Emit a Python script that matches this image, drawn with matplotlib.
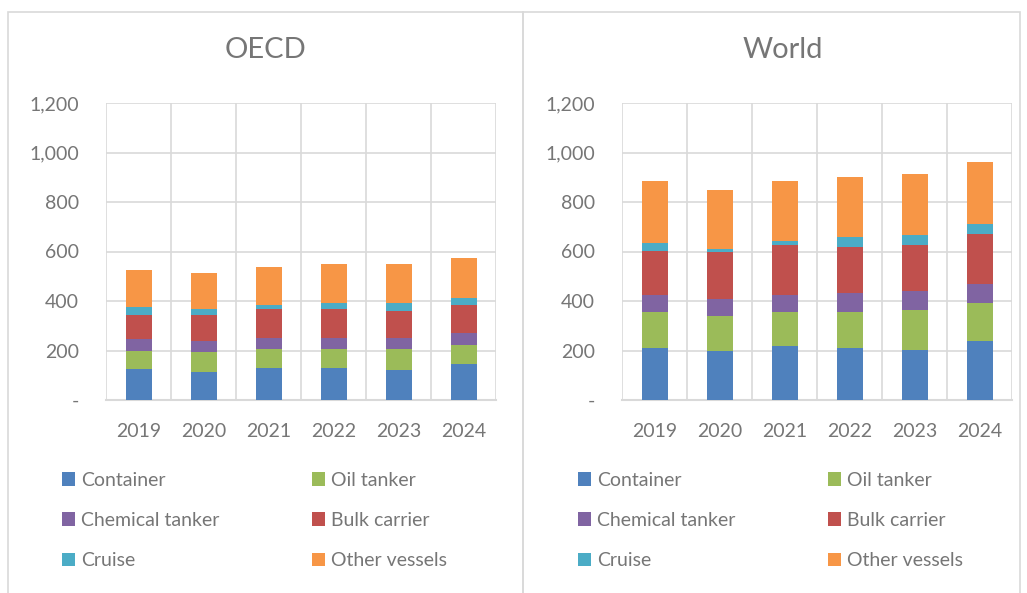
import matplotlib.pyplot as plt
from matplotlib.patches import Rectangle
import numpy as np

plt.rcParams['font.family'] = ['Lato', 'DejaVu Sans']

years = ['2019', '2020', '2021', '2022', '2023', '2024']
series = ['Container', 'Oil tanker', 'Chemical tanker', 'Bulk carrier', 'Cruise', 'Other vessels']
colors = ['#4F81BD', '#9BBB59', '#8064A2', '#C0504D', '#4BACC6', '#F79646']

# OECD values per vessel type
oecd_container = [124, 115, 131, 131, 123, 147]
oecd_oil = [76, 77, 76, 76, 84, 76]
oecd_chemical = [46, 46, 45, 45, 45, 47]
oecd_bulk = [98, 106, 114, 114, 106, 112]
oecd_cruise = [31, 22, 16, 24, 32, 31]
oecd_other = [152, 146, 154, 159, 159, 159]

# World values per vessel type
world_container = [211, 196, 219, 211, 204, 240]
world_oil = [143, 144, 135, 143, 158, 153]
world_chemical = [69, 68, 69, 77, 77, 74]
world_bulk = [181, 189, 204, 188, 188, 205]
world_cruise = [32, 15, 16, 40, 39, 39]
world_other = [250, 235, 243, 241, 249, 250]

oecd = [oecd_container, oecd_oil, oecd_chemical, oecd_bulk, oecd_cruise, oecd_other]
world = [world_container, world_oil, world_chemical, world_bulk, world_cruise, world_other]

TXT = '#767676'
GRID = '#D9D9D9'

fig = plt.figure(figsize=(10.27, 5.93), dpi=100)

# panel borders
for x0, x1 in [(8, 523), (523, 1020)]:
    fig.patches.append(Rectangle((x0 / 1027, -0.01), (x1 - x0) / 1027, (593 - 12) / 593 + 0.01,
                                 transform=fig.transFigure, fill=False, edgecolor='#D9D9D9', lw=1.2))


def draw_panel(left, data, title, title_x):
    ax = fig.add_axes([left / 1027, 193 / 593, 390 / 1027, 297 / 593])
    x = np.arange(len(years))
    bottom = np.zeros(len(years))
    handles = []
    for vals, name, c in zip(data, series, colors):
        b = ax.bar(x, vals, 0.4, bottom=bottom, color=c, label=name, zorder=3)
        handles.append(b)
        bottom += np.array(vals)
    ax.set_xlim(-0.5, 5.5)
    ax.set_ylim(0, 1200)
    ax.set_yticks(range(0, 1201, 200))
    ax.set_yticklabels(['-'] + [f'{v:,}' for v in range(200, 1201, 200)])
    ax.set_xticks(x)
    ax.set_xticklabels(years)
    ax.set_xticks(np.arange(-0.5, 6, 1), minor=True)
    ax.grid(axis='y', which='major', color=GRID, lw=1.2, zorder=0)
    ax.grid(axis='x', which='minor', color=GRID, lw=1.2, zorder=0)
    for s in ['top', 'right', 'left']:
        ax.spines[s].set_visible(False)
    ax.spines['bottom'].set_color(GRID)
    ax.spines['bottom'].set_linewidth(1.5)
    ax.tick_params(which='both', length=0, colors=TXT, labelsize=14)
    ax.tick_params(axis='y', pad=19.5)
    ax.tick_params(axis='x', pad=16.5)
    fig.text(title_x / 1027, 1 - 50 / 593, title, ha='center', va='center', fontsize=21, color=TXT)
    order = [0, 2, 4, 1, 3, 5]
    fig.legend([handles[i] for i in order], [series[i] for i in order],
               loc='upper left', bbox_to_anchor=((left - 62) / 1027, 1 - 454 / 593),
               ncol=2, frameon=False, fontsize=14, handlelength=0.7, handleheight=0.7,
               handletextpad=0.3, columnspacing=4.75, labelspacing=1.2, labelcolor=TXT)
    return ax


draw_panel(106, oecd, 'OECD', 265)
draw_panel(622, world, 'World', 783)

fig.savefig('out.png', dpi=100)
